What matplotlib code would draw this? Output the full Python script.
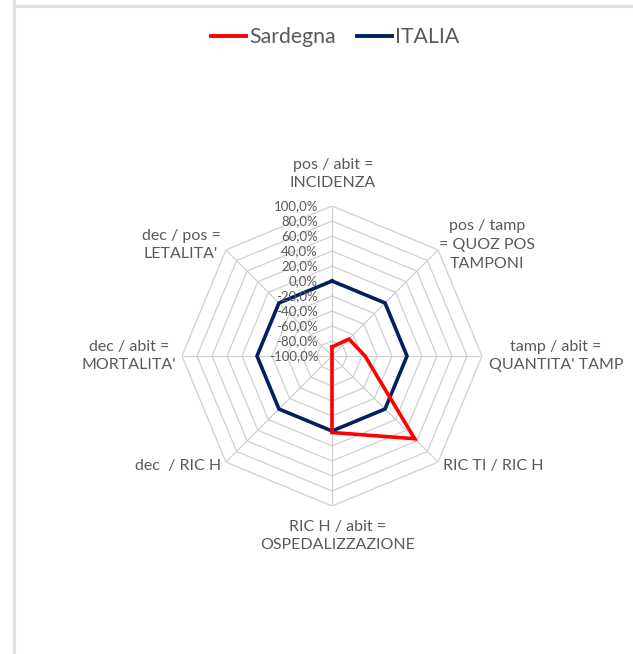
import numpy as np
import matplotlib
matplotlib.use("Agg")
import matplotlib.pyplot as plt
from matplotlib.lines import Line2D

plt.rcParams['font.family'] = ['Lato', 'DejaVu Sans']

categories = [
    "pos / abit =\nINCIDENZA",
    "pos / tamp\n= QUOZ POS\nTAMPONI",
    "tamp / abit =\nQUANTITA' TAMP",
    "RIC TI / RIC H",
    "RIC H / abit =\nOSPEDALIZZAZIONE",
    "dec  / RIC H",
    "dec / abit =\nMORTALITA'",
    "dec / pos =\nLETALITA'",
]
sardegna = [-88.0, -68.0, -56.0, 56.0, 2.0, -100.0, -100.0, -100.0]
italia = [0.0, 0.0, 0.0, 0.0, 0.0, 0.0, 0.0, 0.0]
ring_levels = [-100, -80, -60, -40, -20, 0, 20, 40, 60, 80, 100]
ring_labels = ["-100,0%", "-80,0%", "-60,0%", "-40,0%", "-20,0%", "0,0%",
               "20,0%", "40,0%", "60,0%", "80,0%", "100,0%"]

W, H = 633, 654
fig = plt.figure(figsize=(W / 100, H / 100), dpi=100)
fig.patch.set_facecolor("white")

# chart frame edges
fig.add_artist(Line2D([13.5 / W, 13.5 / W], [0, 1], color="#e0e0e0", lw=2.2,
                      transform=fig.transFigure))
fig.add_artist(Line2D([14 / W, 1], [1 - 6 / H, 1 - 6 / H], color="#e0e0e0", lw=2.2,
                      transform=fig.transFigure))

cx, cy, R = 332, 356, 150
ax = fig.add_axes([(cx - R) / W, (H - cy - R) / H, 2 * R / W, 2 * R / H],
                  projection="polar")
ax.set_theta_offset(np.pi / 2)
ax.set_theta_direction(-1)
ax.set_ylim(-100, 100)
ax.grid(False)
ax.spines["polar"].set_visible(False)
ax.set_xticks([])
ax.set_yticks([])
ax.patch.set_alpha(0)

n = len(categories)
angles = np.arange(n) * 2 * np.pi / n
closed = np.append(angles, angles[0])

# octagonal rings and spokes
for lv in ring_levels:
    ax.plot(closed, [lv] * (n + 1), color="#d0d0d0", lw=0.9, zorder=1)
for a in angles:
    ax.plot([a, a], [-100, 100], color="#d0d0d0", lw=0.9, zorder=1)

ax.plot(closed, np.append(italia, italia[0]), color="#002060", lw=2.6,
        zorder=3, solid_joinstyle="miter")
ax.plot(closed, np.append(sardegna, sardegna[0]), color="#ff0000", lw=2.6,
        zorder=4, solid_joinstyle="miter")

# value labels along the first spoke
for lv, txt in zip(ring_levels, ring_labels):
    ax.annotate(txt, xy=(0, lv), xytext=(-14, 0), textcoords="offset pixels",
                ha="right", va="center", fontsize=9.5, color="#595959",
                annotation_clip=False)

# category labels around the chart
label_pos = [(333, 174), (487, 245), (556, 356), (493, 466),
             (338, 536), (178, 466), (129, 356), (181, 245)]
for txt, (px, py) in zip(categories, label_pos):
    fig.text(px / W, 1 - py / H, txt, ha="center", va="center", fontsize=11.5,
             color="#595959", linespacing=1.42)

handles = [Line2D([], [], color="#ff0000", lw=2.8),
           Line2D([], [], color="#002060", lw=2.8)]
fig.legend(handles, ["Sardegna", "ITALIA"], loc="center",
           bbox_to_anchor=(335 / W, 1 - 37 / H), ncol=2, frameon=False,
           fontsize=15.3, labelcolor="#595959", handlelength=1.65,
           handletextpad=0.15, columnspacing=1.0)

fig.savefig("out.png", dpi=100, facecolor="white")
